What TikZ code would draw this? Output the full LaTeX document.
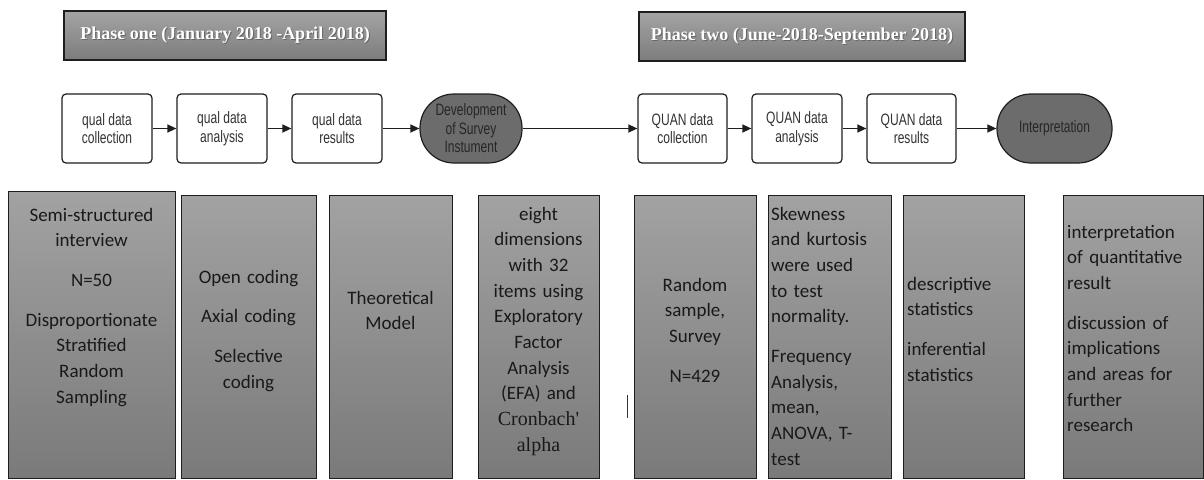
\documentclass[tikz,border=0pt]{standalone}
\usepackage{fontspec}
\setmainfont{Carlito}
\newfontfamily\arialf{Liberation Sans}
\newfontfamily\timesf{Liberation Serif}
\usetikzlibrary{arrows.meta,shapes.misc}
\definecolor{gtop}{HTML}{A2A2A2}
\definecolor{gbot}{HTML}{7A7A7A}
\definecolor{ptop}{HTML}{A4A4A4}
\definecolor{pbot}{HTML}{7C7C7C}
\definecolor{darkfill}{HTML}{6C6C6C}
\definecolor{edge}{HTML}{1E1E1E}
\definecolor{ptext}{HTML}{333333}
\newcommand{\nar}[1]{\scalebox{0.73}[1]{#1}}
\tikzset{
  phasebox/.style={draw=edge, line width=1.2pt, top color=ptop, bottom color=pbot, inner sep=0pt},
  phasetext/.style={text=white, font=\timesf\bfseries\fontsize{18}{20}\selectfont, inner sep=0pt},
  phaseshadow/.style={text=black!60, font=\timesf\bfseries\fontsize{18}{20}\selectfont, inner sep=0pt},
  procbox/.style={draw=edge, line width=1.2pt, fill=white, rounded corners=4pt, minimum height=69pt, inner sep=0pt, align=center, text=ptext, font=\arialf\fontsize{16.5}{18.5}\selectfont},
  endbox/.style={draw=edge, line width=1.2pt, fill=darkfill, rounded corners=34pt, minimum height=69pt, inner sep=0pt, align=center, text=black!85, font=\arialf\fontsize{16.5}{18.5}\selectfont},
  flow/.style={line width=1.3pt, draw=edge, -{Triangle[length=9pt,width=8pt]}},
  infobox/.style={draw=edge, line width=1pt, top color=gtop, bottom color=gbot, inner sep=0pt, anchor=north west},
  infoc/.style={inner sep=0pt, anchor=base, align=center, text=black!90, font=\fontsize{19}{25.7}\selectfont},
  infol/.style={inner sep=0pt, anchor=base west, align=left, text=black!90, font=\fontsize{19}{25.7}\selectfont}
}
\begin{document}
\begin{tikzpicture}[x=1pt,y=-1pt]
\useasboundingbox (0,0) rectangle (1204,479);
% phase headers
\node[phasebox, minimum width=322pt, minimum height=49pt] (ph1) at (225,35.5) {};
\node[phaseshadow] at (226,36.5) {Phase one (January 2018 -April 2018)};
\node[phasetext] (ph1t) at (225,35.5) {Phase one (January 2018 -April 2018)};
\node[phasebox, minimum width=326pt, minimum height=49pt] (ph2) at (802,36.5) {};
\node[phaseshadow] at (803,37.5) {Phase two (June-2018-September 2018)};
\node[phasetext] (ph2t) at (802,36.5) {Phase two (June-2018-September 2018)};
% process row
\node[procbox, minimum width=90pt] (p1) at (107,128.5) {\nar{qual data}\\\nar{collection}};
\node[procbox, minimum width=90pt] (p2) at (222,128.5) {\nar{qual data}\\\nar{analysis}};
\node[procbox, minimum width=90pt] (p3) at (337,128.5) {\nar{qual data}\\\nar{results}};
\node[endbox, minimum width=102pt] (dev) at (471,128.5) {\nar{Development}\\\nar{of Survey}\\\nar{Instument}};
\node[procbox, minimum width=89pt] (q1) at (682.5,128.5) {\nar{QUAN data}\\\nar{collection}};
\node[procbox, minimum width=90pt] (q2) at (797,128.5) {\nar{QUAN data}\\\nar{analysis}};
\node[procbox, minimum width=89pt] (q3) at (911.5,128.5) {\nar{QUAN data}\\\nar{results}};
\node[endbox, minimum width=115pt] (intp) at (1054.5,128.5) {\nar{Interpretation}};
\draw[flow] (p1) -- (p2);
\draw[flow] (p2) -- (p3);
\draw[flow] (p3) -- (dev);
\draw[flow] (dev) -- (q1);
\draw[flow] (q1) -- (q2);
\draw[flow] (q2) -- (q3);
\draw[flow] (q3) -- (intp);
% info boxes
\node[infobox, minimum width=167pt, minimum height=286.5pt] (b1) at (8,191) {};
\node[infobox, minimum width=135pt, minimum height=282.5pt] (b2) at (181,195) {};
\node[infobox, minimum width=123pt, minimum height=282.5pt] (b3) at (329,195) {};
\node[infobox, minimum width=121pt, minimum height=282.5pt] (b4) at (478,195) {};
\node[infobox, minimum width=122pt, minimum height=282.5pt] (b5) at (634,195) {};
\node[infobox, minimum width=123pt, minimum height=282.5pt] (b6) at (768,195) {};
\node[infobox, minimum width=121pt, minimum height=282.5pt] (b7) at (903,195) {};
\node[infobox, minimum width=140pt, minimum height=282.5pt] (b8) at (1063,195) {};
\node[infoc, text width=167pt] (t1) at (91.5,221) {Semi-structured\\interview\\[14pt]N=50\\[14pt]Disproportionate\\Stratified\\Random\\Sampling};
\node[infoc, text width=135pt] (t2) at (248.5,283) {Open coding\\[14pt]Axial coding\\[14pt]Selective\\coding};
\node[infoc, text width=123pt] (t3) at (390.5,304) {Theoretical\\Model};
\node[infoc, text width=121pt] (t4) at (538.5,220) {eight\\dimensions\\with 32\\items using\\Exploratory\\Factor\\Analysis\\(EFA) and\\{\timesf\fontsize{20}{25.7}\selectfont Cronbach\textquotesingle}\\{\timesf\fontsize{20}{25.7}\selectfont alpha}};
\node[infoc, text width=122pt] (t5) at (695,291) {Random\\sample,\\Survey\\[14pt]N=429};
\node[infol, text width=118pt] (t6) at (771,220) {Skewness\\and kurtosis\\were used\\to test\\normality.\\[14pt]Frequency\\Analysis,\\mean,\\ANOVA, T-\\test};
\node[infol, text width=115pt] (t7) at (907,290) {descriptive\\statistics\\[14pt]inferential\\statistics};
\node[infol, text width=134pt] (t8) at (1067,238) {interpretation\\of quantitative\\result\\[14pt]discussion of\\implications\\and areas for\\further\\research};
% stray bar
\draw[line width=1pt, draw=black!80] (627,395) -- (627,418);
\end{tikzpicture}
\end{document}
